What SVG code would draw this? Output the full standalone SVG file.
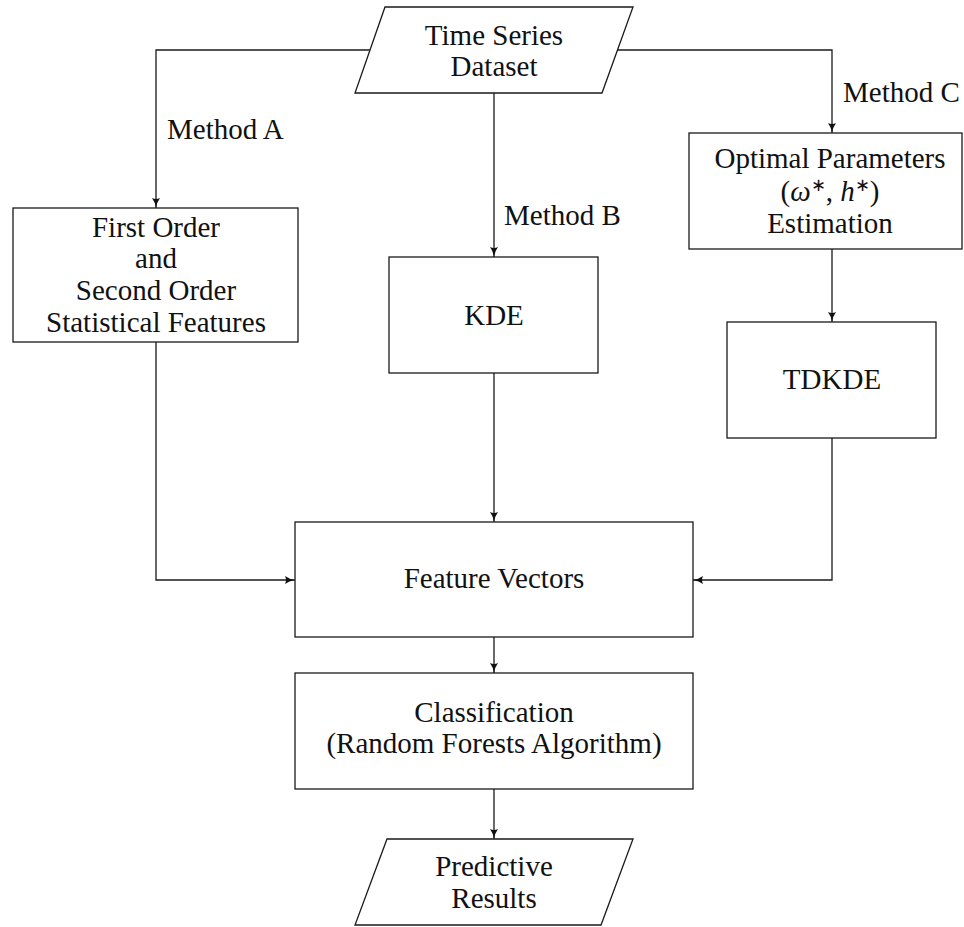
<svg xmlns="http://www.w3.org/2000/svg" width="964" height="927" viewBox="0 0 964 927">
  <style>
    .shape { fill: #ffffff; stroke: #1a1a1a; stroke-width: 1.3; }
    .wire { fill: none; stroke: #1a1a1a; stroke-width: 1.3; marker-end: url(#tip); }
    text { font-family: "Liberation Serif", "Times New Roman", serif; font-size: 29px; fill: #111; }
    .c { text-anchor: middle; }
    .m { font-style: italic; }
  </style>
  <defs>
    <marker id="tip" viewBox="0 0 10 8" refX="10" refY="4" markerWidth="10" markerHeight="8" markerUnits="userSpaceOnUse" orient="auto">
      <path d="M0,0 Q4,3 10,4 Q4,5 0,8 Q2,4 0,0 z" fill="#111"/>
    </marker>
  </defs>

  <!-- connectors -->
  <g id="connectors">
    <path class="wire" d="M370,50 H156 V208"/>
    <path class="wire" d="M494,93 V257"/>
    <path class="wire" d="M617,50 H832 V133"/>
    <path class="wire" d="M832,249 V322"/>
    <path class="wire" d="M494,373 V522"/>
    <path class="wire" d="M156,342 V580 H295"/>
    <path class="wire" d="M832,438 V580 H693"/>
    <path class="wire" d="M494,637 V673"/>
    <path class="wire" d="M494,789 V839"/>
    <text x="167" y="139">Method A</text>
    <text x="504" y="225">Method B</text>
    <text x="843" y="102">Method C</text>
  </g>

  <g id="dataset">
    <polygon class="shape" points="385,7 633,7 602,93 355,93"/>
    <text class="c" x="494" y="45">Time Series</text>
    <text class="c" x="494" y="76">Dataset</text>
  </g>

  <g id="stat-features">
    <rect class="shape" x="13" y="208" width="285" height="134"/>
    <text class="c" x="156" y="237">First Order</text>
    <text class="c" x="156" y="268">and</text>
    <text class="c" x="156" y="300">Second Order</text>
    <text class="c" x="156" y="332">Statistical Features</text>
  </g>

  <g id="kde">
    <rect class="shape" x="389" y="257" width="209" height="116"/>
    <text class="c" x="494" y="325">KDE</text>
  </g>

  <g id="optimal-params">
    <rect class="shape" x="689" y="133" width="273" height="116"/>
    <text class="c" x="830" y="168">Optimal Parameters</text>
    <text class="c" x="830" y="201">(<tspan class="m">ω</tspan><tspan dy="-10" font-size="18">∗</tspan><tspan dy="10">, </tspan><tspan class="m">h</tspan><tspan dy="-10" font-size="18">∗</tspan><tspan dy="10">)</tspan></text>
    <text class="c" x="830" y="233">Estimation</text>
  </g>

  <g id="tdkde">
    <rect class="shape" x="727" y="322" width="209" height="116"/>
    <text class="c" x="832" y="389">TDKDE</text>
  </g>

  <g id="feature-vectors">
    <rect class="shape" x="295" y="522" width="398" height="115"/>
    <text class="c" x="494" y="588">Feature Vectors</text>
  </g>

  <g id="classification">
    <rect class="shape" x="295" y="673" width="398" height="116"/>
    <text class="c" x="494" y="722">Classification</text>
    <text class="c" x="494" y="753">(Random Forests Algorithm)</text>
  </g>

  <g id="results">
    <polygon class="shape" points="387,839 633,839 601,925 355,925"/>
    <text class="c" x="494" y="876">Predictive</text>
    <text class="c" x="494" y="908">Results</text>
  </g>
</svg>
